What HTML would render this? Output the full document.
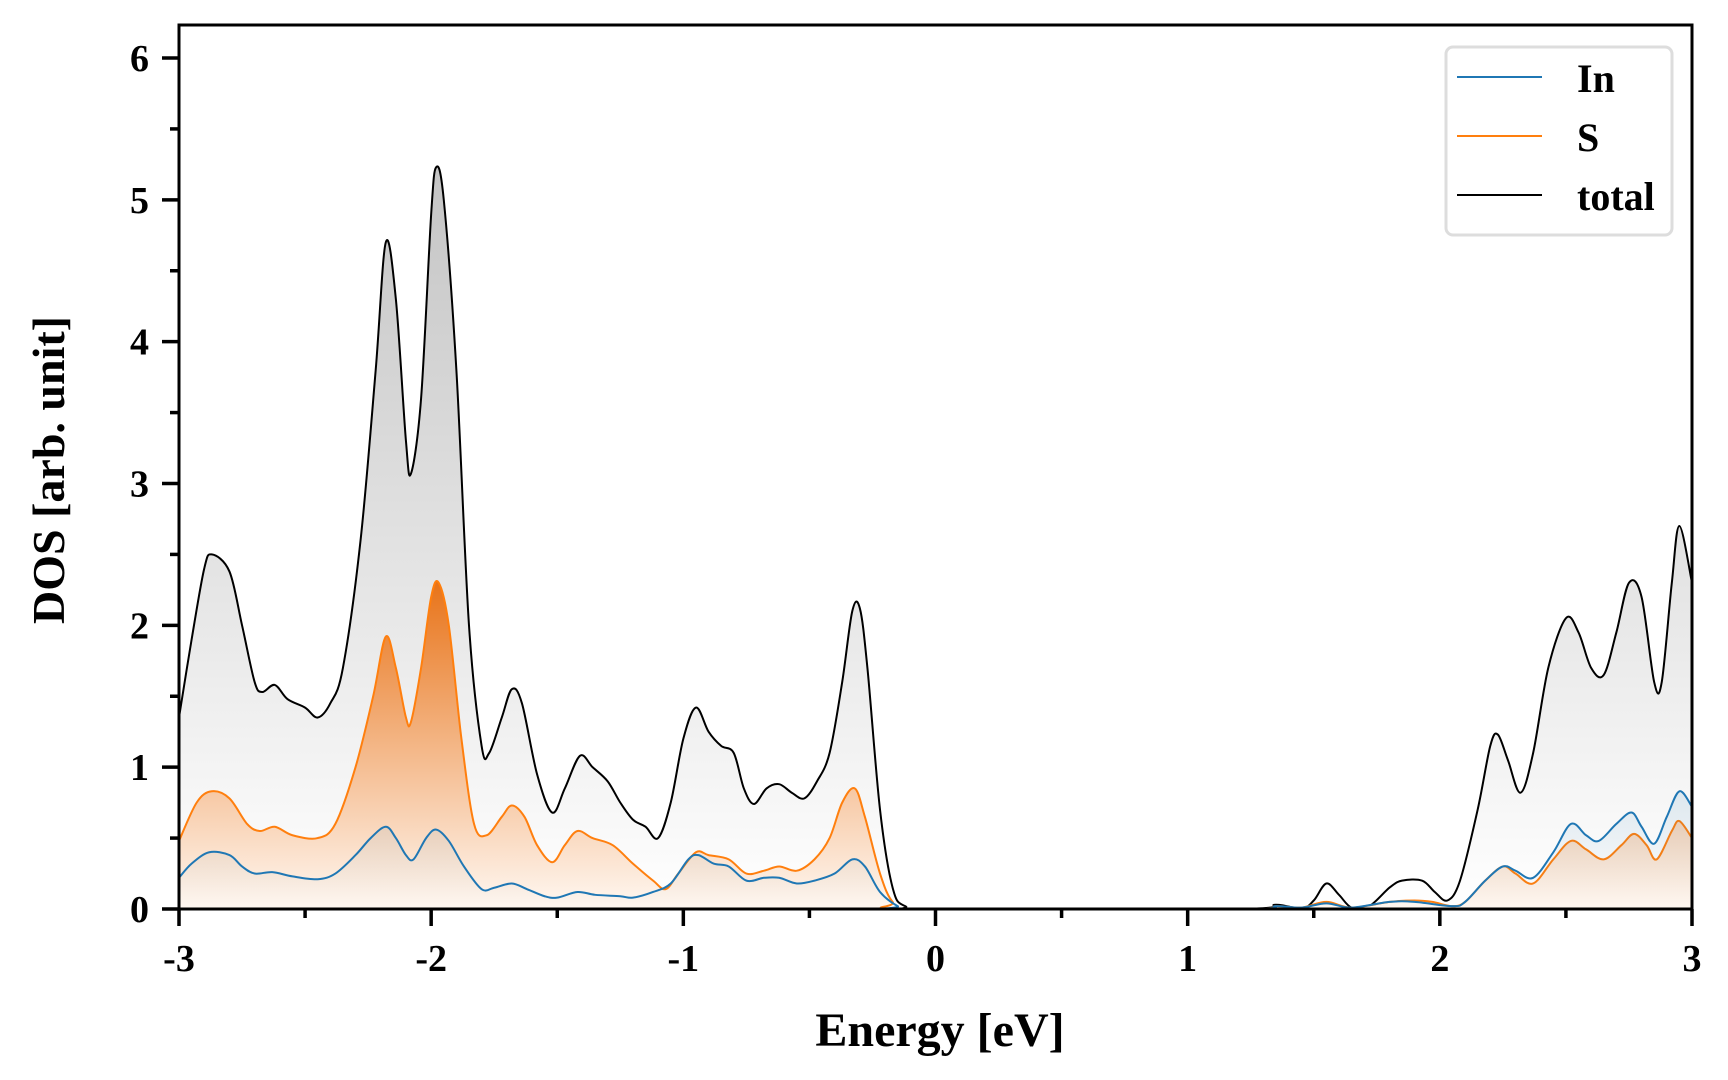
<!DOCTYPE html>
<html><head><meta charset="utf-8"><style>
html,body{margin:0;padding:0;background:#fff;}
svg{display:block;font-family:"Liberation Serif",serif;font-weight:bold;}
</style></head><body>
<svg id="chart" width="1728" height="1080" viewBox="0 0 1728 1080" xmlns="http://www.w3.org/2000/svg">
<defs>
<linearGradient id="gTot" gradientUnits="userSpaceOnUse" x1="0" y1="167" x2="0" y2="909"><stop offset="0" stop-color="#c4c4c4"/><stop offset="1" stop-color="#ffffff"/></linearGradient>
<linearGradient id="gS" gradientUnits="userSpaceOnUse" x1="0" y1="583" x2="0" y2="909"><stop offset="0" stop-color="#e8741a"/><stop offset="1" stop-color="#fff8f2"/></linearGradient>
<linearGradient id="gIn" gradientUnits="userSpaceOnUse" x1="0" y1="785" x2="0" y2="909"><stop offset="0" stop-color="#1f77b4" stop-opacity="0.12"/><stop offset="1" stop-color="#1f77b4" stop-opacity="0"/></linearGradient>
<clipPath id="clip"><rect x="179" y="25" width="1513" height="884"/></clipPath>
</defs>
<g id="plot" clip-path="url(#clip)"></g>
<g id="axes"></g>
<rect x="179" y="25" width="1513" height="884" fill="none" stroke="#000" stroke-width="3"/>
<text x="940" y="1046" font-size="48" text-anchor="middle">Energy [eV]</text>
<text x="64" y="470" font-size="46" text-anchor="middle" transform="rotate(-90 64 470)">DOS [arb. unit]</text>
<g>
<rect x="1446" y="47" width="226" height="188" rx="7" fill="#fff" fill-opacity="0.9" stroke="#ddd" stroke-width="3"/>
<line x1="1457" y1="77" x2="1542" y2="77" stroke="#1f77b4" stroke-width="2"/>
<text x="1577" y="92" font-size="40">In</text>
<line x1="1457" y1="136" x2="1542" y2="136" stroke="#ff7f0e" stroke-width="2"/>
<text x="1577" y="151" font-size="40">S</text>
<line x1="1457" y1="195" x2="1542" y2="195" stroke="#000" stroke-width="2"/>
<text x="1577" y="210" font-size="40">total</text>
</g>
</svg>
<script>
const totE=[-3,-2.95,-2.9,-2.87,-2.8,-2.75,-2.7,-2.67,-2.62,-2.57,-2.5,-2.45,-2.4,-2.35,-2.28,-2.22,-2.18,-2.14,-2.1,-2.08,-2.04,-2.0,-1.98,-1.95,-1.9,-1.85,-1.8,-1.77,-1.72,-1.68,-1.64,-1.58,-1.52,-1.47,-1.41,-1.36,-1.3,-1.25,-1.2,-1.15,-1.1,-1.05,-1.0,-0.95,-0.9,-0.85,-0.8,-0.76,-0.72,-0.67,-0.62,-0.57,-0.52,-0.47,-0.42,-0.37,-0.33,-0.3,-0.27,-0.22,-0.17,-0.12,0,1.2,1.35,1.45,1.5,1.55,1.6,1.65,1.72,1.8,1.85,1.93,1.98,2.03,2.08,2.15,2.2,2.23,2.27,2.32,2.37,2.43,2.5,2.55,2.6,2.65,2.7,2.75,2.8,2.85,2.88,2.92,2.95,3.0];
const totV=[1.35,1.9,2.4,2.5,2.38,2.0,1.6,1.53,1.58,1.48,1.42,1.35,1.45,1.7,2.6,3.8,4.7,4.3,3.3,3.07,3.6,4.9,5.23,5.0,3.8,2.0,1.15,1.1,1.35,1.55,1.45,0.95,0.68,0.85,1.08,1.0,0.9,0.75,0.63,0.58,0.5,0.75,1.2,1.42,1.25,1.15,1.1,0.85,0.74,0.85,0.88,0.82,0.78,0.9,1.1,1.6,2.1,2.12,1.7,0.7,0.15,0.02,0,0,0.03,0.0,0.06,0.18,0.1,0.01,0.02,0.15,0.2,0.2,0.12,0.06,0.2,0.7,1.15,1.23,1.05,0.82,1.1,1.7,2.05,1.95,1.7,1.65,1.95,2.3,2.2,1.6,1.6,2.3,2.7,2.3];
const sE=[-3,-2.93,-2.87,-2.8,-2.73,-2.68,-2.62,-2.55,-2.45,-2.38,-2.3,-2.23,-2.18,-2.14,-2.1,-2.08,-2.04,-2.0,-1.97,-1.93,-1.88,-1.83,-1.78,-1.72,-1.68,-1.63,-1.58,-1.52,-1.47,-1.42,-1.36,-1.28,-1.2,-1.12,-1.07,-1.02,-0.95,-0.9,-0.82,-0.75,-0.68,-0.62,-0.55,-0.48,-0.42,-0.37,-0.32,-0.28,-0.22,-0.17,-0.1,1.2,1.35,1.45,1.55,1.65,1.8,1.9,1.97,2.05,2.1,2.18,2.25,2.3,2.37,2.45,2.52,2.58,2.65,2.72,2.77,2.82,2.86,2.92,2.95,3.0];
const sV=[0.48,0.75,0.83,0.78,0.6,0.55,0.58,0.52,0.5,0.6,1.0,1.5,1.92,1.7,1.35,1.32,1.7,2.2,2.3,2.0,1.2,0.6,0.52,0.65,0.73,0.65,0.45,0.33,0.45,0.55,0.5,0.45,0.32,0.2,0.14,0.25,0.4,0.38,0.35,0.25,0.27,0.3,0.27,0.35,0.5,0.75,0.85,0.65,0.25,0.05,0,0,0.02,0.01,0.05,0.01,0.05,0.06,0.05,0.02,0.05,0.2,0.3,0.25,0.18,0.35,0.48,0.42,0.35,0.45,0.53,0.45,0.35,0.55,0.62,0.5];
const inE=[-3,-2.95,-2.88,-2.8,-2.75,-2.7,-2.63,-2.55,-2.45,-2.38,-2.3,-2.24,-2.18,-2.14,-2.1,-2.07,-2.02,-1.98,-1.93,-1.87,-1.8,-1.75,-1.68,-1.62,-1.55,-1.5,-1.42,-1.35,-1.25,-1.2,-1.12,-1.05,-0.98,-0.94,-0.88,-0.82,-0.75,-0.68,-0.62,-0.55,-0.48,-0.4,-0.33,-0.28,-0.22,-0.15,-0.1,1.2,1.35,1.45,1.55,1.65,1.8,1.9,2.05,2.1,2.18,2.25,2.3,2.37,2.45,2.52,2.58,2.63,2.7,2.76,2.8,2.85,2.9,2.95,3.0];
const inV=[0.22,0.32,0.4,0.38,0.3,0.25,0.26,0.23,0.21,0.25,0.38,0.5,0.58,0.5,0.38,0.35,0.5,0.56,0.48,0.3,0.14,0.15,0.18,0.14,0.09,0.08,0.12,0.1,0.09,0.08,0.12,0.18,0.35,0.38,0.32,0.3,0.2,0.22,0.22,0.18,0.2,0.25,0.35,0.3,0.12,0.02,0,0,0.02,0.01,0.04,0.01,0.05,0.05,0.02,0.05,0.2,0.3,0.27,0.22,0.4,0.6,0.52,0.48,0.6,0.68,0.58,0.46,0.65,0.83,0.72];
const xTicks=[-3,-2,-1,0,1,2,3];
const xTickLabels=["-3","-2","-1","0","1","2","3"];
const yTicks=[0,1,2,3,4,5,6];
const yTickLabels=["0","1","2","3","4","5","6"];

const NS="http://www.w3.org/2000/svg";
const X0=179,X1=1692,Y0=909,Y6=58;
const sx=e=>X0+(e+3)/6*(X1-X0);
const sy=v=>Y0-v*(Y0-Y6)/6;
function pathD(E,V){
  const p=E.map((e,i)=>[sx(e),sy(V[i])]);
  let d=`M${p[0][0]},${p[0][1]}`;
  for(let i=0;i<p.length-1;i++){
    const a=p[Math.max(0,i-1)],b=p[i],c=p[i+1],n=p[Math.min(p.length-1,i+2)];
    const t=6;
    let c1y=b[1]+(c[1]-a[1])/t, c2y=c[1]-(n[1]-b[1])/t;
    c1y=Math.min(c1y,Y0); c2y=Math.min(c2y,Y0);
    d+=` C${b[0]+(c[0]-a[0])/t},${c1y} ${c[0]-(n[0]-b[0])/t},${c2y} ${c[0]},${c[1]}`;
  }
  return d;
}
const plot=document.getElementById('plot');
function addSeries(E,V,fill,stroke,name){
  const d=pathD(E,V);
  const f=document.createElementNS(NS,'path');
  f.setAttribute('d',d+` L${sx(E[E.length-1])},${Y0} L${sx(E[0])},${Y0} Z`);
  f.setAttribute('fill',fill);
  
  
  plot.appendChild(f);
  const l=document.createElementNS(NS,'path');
  l.setAttribute('d',d);l.setAttribute('fill','none');l.setAttribute('stroke',stroke);l.setAttribute('stroke-width','2');
  
  
  plot.appendChild(l);
}
addSeries(totE,totV,'url(#gTot)','#000','total');
addSeries(sE,sV,'url(#gS)','#ff7f0e','s');
addSeries(inE,inV,'url(#gIn)','#1f77b4','in');
const axes=document.getElementById('axes');
function line(x1,y1,x2,y2,name){
  const l=document.createElementNS(NS,'line');
  l.setAttribute('x1',x1);l.setAttribute('y1',y1);l.setAttribute('x2',x2);l.setAttribute('y2',y2);
  l.setAttribute('stroke','#000');l.setAttribute('stroke-width','3.5');
  
  
  axes.appendChild(l);
}
function text(x,y,s,anchor,name){
  const t=document.createElementNS(NS,'text');
  t.setAttribute('x',x);t.setAttribute('y',y);t.setAttribute('font-size','38');t.setAttribute('text-anchor',anchor);
  t.textContent=s;
  
  
  axes.appendChild(t);
}
xTicks.forEach((v,i)=>{line(sx(v),Y0,sx(v),Y0+17,'x-tick');text(sx(v),Y0+62,xTickLabels[i],'middle','x-tick-label');});
for(let v=-2.5;v<3;v+=1){line(sx(v),Y0,sx(v),Y0+9,'x-minor-tick');}
yTicks.forEach((v,i)=>{line(X0,sy(v),X0-17,sy(v),'y-tick');text(X0-30,sy(v)+13,yTickLabels[i],'end','y-tick-label');});
for(let v=0.5;v<6.2;v+=1){line(X0,sy(v),X0-9,sy(v),'y-minor-tick');}
</script>
</body></html>
